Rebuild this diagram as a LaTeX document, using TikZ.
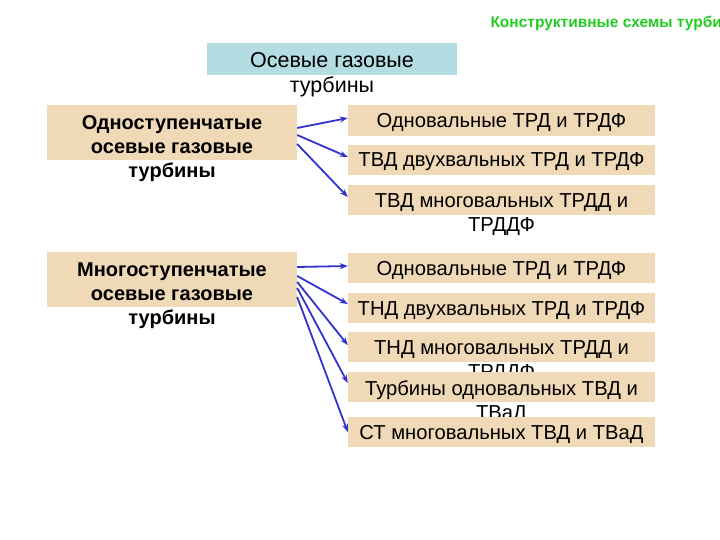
\documentclass[tikz,border=0pt]{standalone}
\usepackage{fontspec}
\setmainfont{Liberation Sans}
\usetikzlibrary{arrows.meta}
\definecolor{boxtan}{HTML}{EFD9B6}
\definecolor{hdrblue}{HTML}{B3DCE3}
\definecolor{arrblue}{HTML}{3232CC}
\definecolor{titlegreen}{HTML}{22CC22}

\begin{document}
\begin{tikzpicture}[x=1pt,y=-1pt,>={Stealth[length=8pt,width=6pt]},
  hdrbox/.style={fill=hdrblue,minimum width=250pt,minimum height=32pt,inner sep=0pt},
  leftbox/.style={fill=boxtan,minimum width=250pt,minimum height=55pt,inner sep=0pt},
  rbox/.style={fill=boxtan,minimum width=307pt,minimum height=30pt,inner sep=0pt,
    text height=15pt,text depth=1pt,font=\fontsize{20.2}{24}\selectfont},
  ltext/.style={align=center,inner sep=0pt,anchor=north,font=\fontsize{20}{24}\selectfont\bfseries},
  rtext/.style={align=center,inner sep=0pt,anchor=north,font=\fontsize{20.2}{24}\selectfont},
  link/.style={->,arrblue,line width=1.8pt}]
  \clip (0,0) rectangle (720,540);

  \node[anchor=west,text=titlegreen,font=\fontsize{15.5}{18}\selectfont\bfseries] (title) at (487,23) {Конструктивные схемы турбин};

  \node[hdrbox] (hdr) at (332,59) {};
  \node[rtext,font=\fontsize{21.5}{25}\selectfont] (hdrtext) at ([yshift=-9pt]hdr.north) {Осевые газовые\\турбины};

  % left column
  \node[leftbox] (single) at (172,132.5) {};
  \node[ltext] (singletext) at ([yshift=-11pt]single.north) {Одноступенчатые\\осевые газовые\\турбины};
  \node[leftbox] (multi) at (172,279.5) {};
  \node[ltext] (multitext) at ([yshift=-11pt]multi.north) {Многоступенчатые\\осевые газовые\\турбины};

  % right column, single-stage
  \node[rbox,minimum height=31pt] (s1) at (501.5,120.5) {Одновальные ТРД и ТРДФ};
  \node[rbox] (s2) at (501.5,160) {ТВД двухвальных ТРД и ТРДФ};
  \node[rbox] (s3) at (501.5,200) {};
  \node[rtext] (s3text) at ([yshift=-9pt]s3.north) {ТВД многовальных ТРДД и\\ТРДДФ};

  % right column, multi-stage
  \node[rbox] (m1) at (501.5,268) {Одновальные ТРД и ТРДФ};
  \node[rbox] (m2) at (501.5,308) {ТНД двухвальных ТРД и ТРДФ};
  \node[rbox] (m3) at (501.5,347) {};
  \node[rtext] (m3text) at ([yshift=-9pt]m3.north) {ТНД многовальных ТРДД и\\ТРДДФ};
  \node[rbox] (m4) at (501.5,387) {};
  \node[rtext] (m4text) at ([yshift=-9pt]m4.north) {Турбины одновальных ТВД и\\ТВаД};
  \node[rbox] (m5) at (501.5,432) {СТ многовальных ТВД и ТВаД};

  \draw[link] ([yshift=4.5pt]single.east) -- ([yshift=2.5pt]s1.west);
  \draw[link] ([yshift=-2.5pt]single.east) -- ([yshift=3pt]s2.west);
  \draw[link] ([yshift=-11.5pt]single.east) -- ([yshift=3pt]s3.west);

  \draw[link] ([yshift=12.5pt]multi.east) -- ([yshift=2pt]m1.west);
  \draw[link] ([yshift=3.5pt]multi.east) -- ([yshift=4pt]m2.west);
  \draw[link] ([yshift=-2.5pt]multi.east) -- ([yshift=2pt]m3.west);
  \draw[link] ([yshift=-8.5pt]multi.east) -- ([yshift=4pt]m4.west);
  \draw[link] ([yshift=-17.5pt]multi.east) -- (m5.west);
\end{tikzpicture}
\end{document}
